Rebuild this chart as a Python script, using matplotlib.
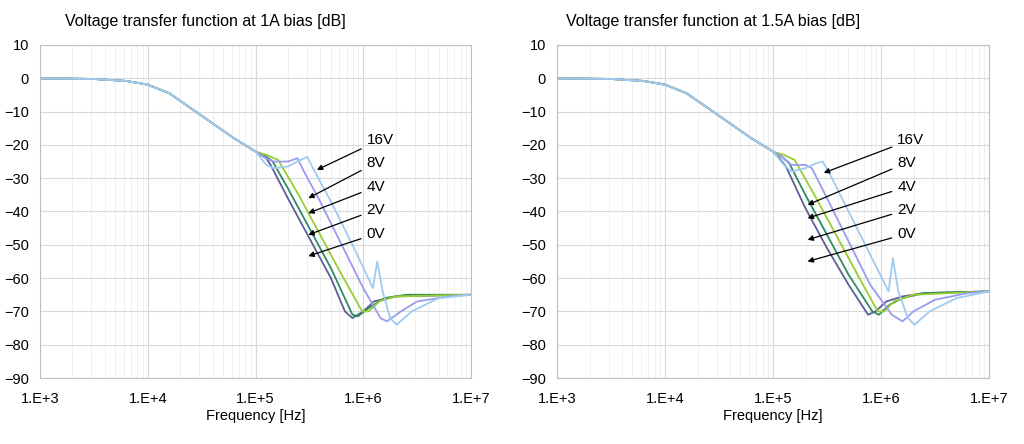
import numpy as np
import matplotlib.pyplot as plt
from matplotlib.ticker import FixedLocator, NullFormatter

plt.rcParams["font.family"] = "Liberation Sans"

# shared low-frequency part (log10 f, dB)
base_lf = [3.0, 3.5, 3.8, 4.0, 4.2, 4.4, 4.6, 4.8, 5.0]
base_db = [0, -0.2, -0.8, -1.9, -4.5, -9, -13.5, -18, -22]

labels = ["0V", "2V", "4V", "8V", "16V"]
colors = ["#5b5f97", "#2e8b62", "#9acd32", "#9b9bef", "#9fcbf0"]

left_lf = [
    [5.1, 5.14, 5.3, 5.5, 5.7, 5.83, 5.9, 6.0, 6.1, 6.3, 7.0],
    [5.1, 5.16, 5.3, 5.5, 5.7, 5.9, 5.95, 6.05, 6.2, 6.4, 7.0],
    [5.1, 5.21, 5.4, 5.6, 5.8, 5.99, 6.05, 6.15, 6.3, 7.0],
    [5.1, 5.17, 5.3, 5.39, 5.45, 5.6, 5.8, 6.0, 6.16, 6.22, 6.35, 6.5, 6.8, 7.0],
    [5.1, 5.17, 5.3, 5.42, 5.48, 5.55, 5.7, 5.9, 6.09, 6.13, 6.18, 6.25, 6.31, 6.45, 6.7, 7.0],
]
left_db = [
    [-24, -26, -36, -48, -60, -70, -72, -70, -67, -65.5, -65],
    [-23.5, -25, -33, -45, -57, -71, -71.5, -69, -66, -65, -65],
    [-23, -24.5, -35, -47, -59, -70, -70, -67, -65.5, -65],
    [-24, -25, -25, -24, -28, -37, -50, -63, -72, -73, -70, -67, -65.5, -65],
    [-26, -27, -26.5, -24.5, -23.6, -28, -37, -50, -63, -55, -64, -72, -74, -70, -66, -65],
]

right_lf = [
    [5.06, 5.12, 5.3, 5.5, 5.7, 5.88, 5.95, 6.05, 6.2, 6.4, 7.0],
    [5.08, 5.15, 5.3, 5.5, 5.7, 5.92, 5.98, 6.08, 6.2, 6.4, 7.0],
    [5.1, 5.2, 5.4, 5.6, 5.8, 5.97, 6.03, 6.12, 6.3, 7.0],
    [5.1, 5.17, 5.25, 5.3, 5.36, 5.5, 5.7, 5.9, 6.1, 6.2, 6.3, 6.5, 6.8, 7.0],
    [5.1, 5.17, 5.3, 5.4, 5.46, 5.53, 5.7, 5.9, 6.07, 6.11, 6.16, 6.25, 6.31, 6.45, 6.7, 7.0],
]
right_db = [
    [-24, -26.5, -39, -51, -62, -71, -70, -67, -65.5, -64.5, -64],
    [-23.5, -25.5, -35, -47, -59, -70, -71, -68, -66, -64.5, -64],
    [-23, -24.5, -36, -48, -60, -70, -70, -67, -65, -64],
    [-24, -26, -26, -26, -27, -36, -49, -62, -71, -73, -70, -66.5, -64.5, -64],
    [-26, -28, -27, -25.5, -25, -29, -40, -53, -64, -54, -64, -72, -74, -70, -66, -64],
]

titles = ["Voltage transfer function at 1A bias [dB]",
          "Voltage transfer function at 1.5A bias [dB]"]
title_x = [0.058, 0.02]
# arrow heads (log f, dB) per chart, order 16V,8V,4V,2V,0V
heads = [
    [(5.57, -27.5), (5.49, -36), (5.49, -40.5), (5.49, -47), (5.49, -53.4)],
    [(5.47, -28.4), (5.32, -38), (5.32, -42), (5.32, -48.5), (5.32, -55)],
]
text_lf = [6.03, 6.15]
ann_labels = ["16V", "8V", "4V", "2V", "0V"]
text_db = [-18.5, -25.4, -32.6, -39.5, -46.7]

fig = plt.figure(figsize=(10.24, 4.44), dpi=100)
axes_pos = [[40 / 1024, 66 / 444, 431 / 1024, 333 / 444],
            [557 / 1024, 66 / 444, 432 / 1024, 333 / 444]]

minor = [np.log10(m) + d for d in range(3, 7) for m in range(2, 10)]

for k in range(2):
    ax = fig.add_axes(axes_pos[k])
    lfs = left_lf if k == 0 else right_lf
    dbs = left_db if k == 0 else right_db
    for i in range(5):
        ax.plot(base_lf + lfs[i], base_db + dbs[i], color=colors[i], lw=1.3)
    ax.set_xlim(3, 7)
    ax.set_ylim(-90, 10)
    ax.set_xticks([3, 4, 5, 6, 7])
    ax.set_xticklabels(["1.E+3", "1.E+4", "1.E+5", "1.E+6", "1.E+7"])
    ax.xaxis.set_minor_locator(FixedLocator(minor))
    ax.xaxis.set_minor_formatter(NullFormatter())
    ax.set_yticks(np.arange(-90, 11, 10))
    ax.grid(which="major", color="#d9d9d9", lw=0.8)
    ax.grid(which="minor", axis="x", color="#ececec", lw=0.6)
    ax.tick_params(which="both", length=0, labelsize=10.5)
    ax.tick_params(axis="x", pad=10)
    ax.tick_params(axis="y", pad=8)
    for s in ax.spines.values():
        s.set_color("#bfbfbf")
    ax.set_xlabel("Frequency [Hz]", fontsize=10.5, labelpad=2)
    ax.set_title(titles[k], fontsize=11.5, loc="left", x=title_x[k], pad=14)
    for j in range(5):
        ax.annotate(ann_labels[j], xy=heads[k][j],
                    xytext=(text_lf[k], text_db[j]), fontsize=11, va="center",
                    arrowprops=dict(arrowstyle="-|>", color="black", lw=0.9,
                                    shrinkA=2, shrinkB=0, mutation_scale=8))

fig.savefig("out.png", dpi=100)
